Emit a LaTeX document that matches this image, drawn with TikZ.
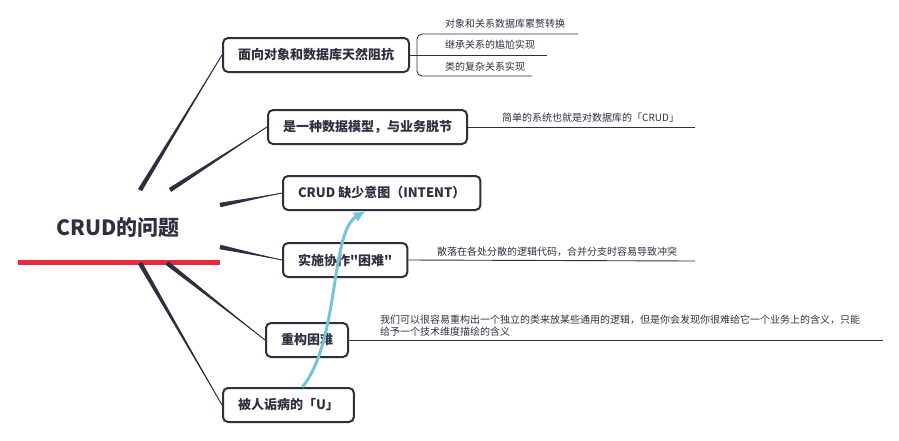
\documentclass[tikz,border=0pt]{standalone}
\usepackage{fontspec}
\setmainfont{Noto Sans CJK SC}
\usetikzlibrary{arrows.meta,calc}
\definecolor{inkdark}{HTML}{2E3040}
\definecolor{topicred}{HTML}{E8283F}
\definecolor{linkblue}{HTML}{74C6D6}

\begin{document}
\begin{tikzpicture}[x=1pt,y=-1pt,>={Latex[length=12pt,width=11pt]},topic/.style={draw=inkdark, text=inkdark, line width=2pt, rounded corners=5pt, minimum height=34pt, inner xsep=15pt, anchor=west, font=\fontsize{13}{15}\selectfont\bfseries},leaf/.style={text=inkdark, inner sep=0pt, anchor=west, align=left, font=\fontsize{10}{12}\selectfont},branch/.style={fill=inkdark},twig/.style={draw=inkdark, line width=0.9pt},relation/.style={->, draw=linkblue, line width=3pt}]
\useasboundingbox (0,0) rectangle (899,440);
% central topic
\node[text=inkdark, font=\fontsize{21}{25}\selectfont\bfseries] (root) at (118,228) {CRUD的问题};
\coordinate (ul) at (18,262);\coordinate (ur) at (220,262);
\draw[topicred, line width=5pt] (ul) -- (ur);
% main topics
\node[topic] (b1) at (222,55) {面向对象和数据库天然阻抗};
\node[topic] (b2) at (267,127) {是一种数据模型，与业务脱节};
\node[topic] (b3) at (282,193) {CRUD 缺少意图（INTENT）};
\node[topic] (b4) at (282,260) {实施协作\textquotedbl 困难\textquotedbl};
\node[topic] (b5) at (265,340) {重构困难};
\node[topic] (b6) at (222,405) {被人诟病的「U」};
% tapered branches
\coordinate (r1) at (140,190);\coordinate (r2) at (170,190);\coordinate (r3) at (220,205);
\coordinate (r4) at (220,247);\coordinate (r5) at (167,263);\coordinate (r6) at (140,263);
\fill[branch] ($(r1)+(-2,-1.1)$) -- (b1.west) -- ($(r1)+(2,1.1)$) -- cycle;\draw[twig] (r1) -- (b1.west);
\fill[branch] ($(r2)+(-1.2,-1.9)$) -- (b2.west) -- ($(r2)+(1.2,1.9)$) -- cycle;\draw[twig] (r2) -- (b2.west);
\fill[branch] ($(r3)+(-0.5,-2.2)$) -- (b3.west) -- ($(r3)+(0.5,2.2)$) -- cycle;\draw[twig] (r3) -- (b3.west);
\fill[branch] ($(r4)+(0.5,-2.2)$) -- (b4.west) -- ($(r4)+(-0.5,2.2)$) -- cycle;\draw[twig] (r4) -- (b4.west);
\fill[branch] ($(r5)+(1.4,-1.8)$) -- (b5.west) -- ($(r5)+(-1.4,1.8)$) -- cycle;\draw[twig] (r5) -- (b5.west);
\fill[branch] ($(r6)+(2,-1.1)$) -- (b6.west) -- ($(r6)+(-2,1.1)$) -- cycle;\draw[twig] (r6) -- (b6.west);
% sub topics
\node[leaf] (l1a) at (445,24) {对象和关系数据库累赘转换};
\node[leaf] (l1b) at (445,45) {继承关系的尴尬实现};
\node[leaf] (l1c) at (445,67) {类的复杂关系实现};
\coordinate (e1a) at (578,34);\coordinate (k1a) at (417,34);\coordinate (k1c) at (417,76);\coordinate (e1c) at (532,76);\coordinate (e1b) at (547,55);
\draw[twig, rounded corners=5pt] (e1a) -- (k1a) -- (k1c) -- (e1c);
\draw[twig] (b1.east) -- (e1b);
\node[leaf] (l2) at (502,118) {简单的系统也就是对数据库的「CRUD」};
\coordinate (e2) at (695,127);\draw[twig] (b2.east) -- (e2);
\node[leaf] (l4) at (437,252) {散落在各处分散的逻辑代码，合并分支时容易导致冲突};
\coordinate (e4) at (695,261);\draw[twig] (b4.east) -- (e4);
\node[leaf] (l5) at (380,326) {我们可以很容易重构出一个独立的类来放某些通用的逻辑，但是你会发现你很难给它一个业务上的含义，只能\\给予一个技术维度描绘的含义};
\coordinate (e5) at (883,340);\draw[twig] (b5.east) -- (e5);
% relation
\draw[relation] ([xshift=14pt]b6.north) .. controls (340,340) and (330,232) .. ([xshift=-16pt]b3.south);
\end{tikzpicture}
\end{document}
